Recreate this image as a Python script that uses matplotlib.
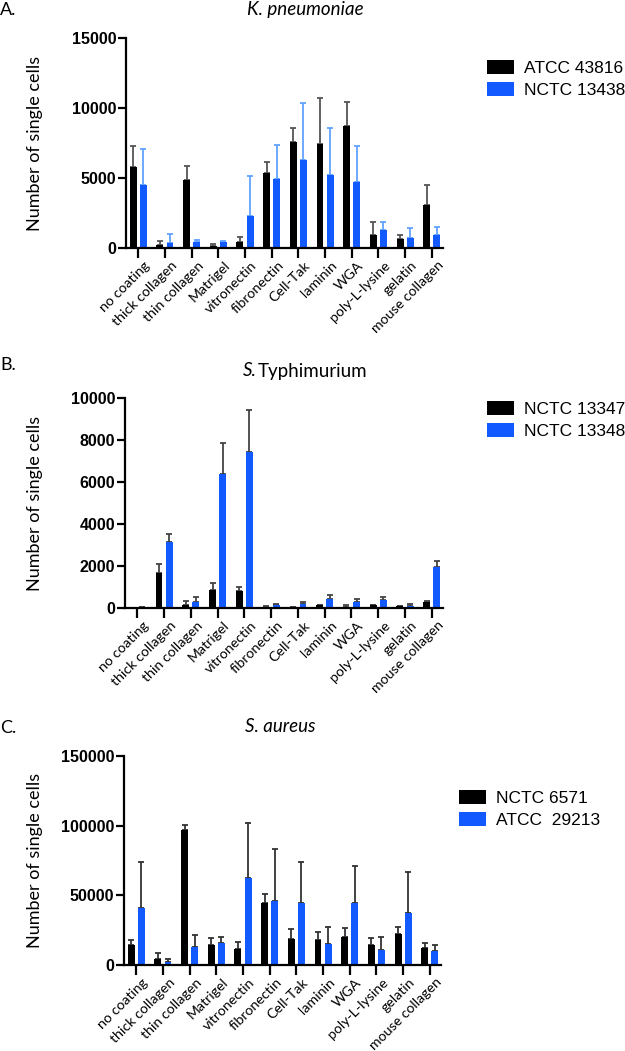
import numpy as np
import matplotlib.pyplot as plt
from matplotlib.transforms import ScaledTranslation

# coatings (x axis)
coatings = ["no coating", "thick collagen", "thin collagen", "Matrigel", "vitronectin",
            "fibronectin", "Cell-Tak", "laminin", "WGA", "poly-L-lysine", "gelatin",
            "mouse collagen"]

# A. K. pneumoniae
kp_strains = ["ATCC 43816", "NCTC 13438"]
kp_mean_1 = [5800, 210, 4830, 167, 460, 5380, 7600, 7400, 8690, 950, 620, 3070]
kp_sd_1 = [1500, 260, 1050, 143, 300, 790, 950, 3300, 1740, 880, 280, 1450]
kp_mean_2 = [4520, 333, 405, 452, 2260, 4950, 6310, 5210, 4740, 1310, 740, 930]
kp_sd_2 = [2580, 667, 190, 50, 2860, 2430, 4070, 3390, 2520, 520, 660, 550]

# B. S. Typhimurium
st_strains = ["NCTC 13347", "NCTC 13348"]
st_mean_1 = [15, 1680, 160, 840, 810, 70, 40, 125, 70, 140, 80, 300]
st_sd_1 = [5, 410, 160, 350, 200, 40, 20, 30, 60, 20, 30, 40]
st_mean_2 = [50, 3160, 285, 6380, 7450, 150, 210, 440, 300, 395, 110, 1975]
st_sd_2 = [10, 350, 235, 1480, 2000, 30, 90, 190, 140, 125, 90, 240]

# C. S. aureus
sa_strains = ["NCTC 6571", "ATCC  29213"]
sa_mean_1 = [14200, 4300, 97200, 14200, 11800, 44200, 18500, 18000, 20300, 14200, 22000, 12300]
sa_sd_1 = [3500, 4450, 3600, 5400, 4500, 6700, 7000, 5400, 6000, 5400, 5200, 3300]
sa_mean_2 = [41200, 2100, 13200, 15900, 62500, 46100, 44200, 15100, 44500, 11100, 37600, 9900]
sa_sd_2 = [32800, 1900, 8100, 4000, 39500, 37400, 29800, 12100, 26900, 8800, 29400, 4500]

W, H = 625, 1051
fig = plt.figure(figsize=(W / 100, H / 100), dpi=100)

BLUE = "#1259ff"
lab_font = "Lato"


def panel(rect, m1, s1, m2, s2, ymax, step, strains, ecol, leg_xy):
    l, t, r, b = rect
    ax = fig.add_axes([l / W, 1 - b / H, (r - l) / W, (b - t) / H])
    x = np.arange(len(coatings))
    w = 0.26
    b1 = ax.bar(x - 0.19, m1, w, color="black", label=strains[0], zorder=2)
    b2 = ax.bar(x + 0.19, m2, w, color=BLUE, label=strains[1], zorder=2)
    ax.errorbar(x - 0.19, m1, yerr=[np.zeros(len(m1)), s1], fmt="none",
                ecolor=ecol[0], elinewidth=1.3, capsize=2, capthick=1.3, zorder=1)
    ax.errorbar(x + 0.19, m2, yerr=[np.zeros(len(m2)), s2], fmt="none",
                ecolor=ecol[1], elinewidth=1.3, capsize=2, capthick=1.3, zorder=1)
    ax.set_xlim(-0.46, 11.42)
    ax.set_ylim(0, ymax)
    ax.set_yticks(np.arange(0, ymax + 1, step))
    for s in ["top", "right"]:
        ax.spines[s].set_visible(False)
    for s in ["left", "bottom"]:
        ax.spines[s].set_linewidth(1.6)
    ax.tick_params(axis="y", length=6, width=1.6, pad=1)
    ax.tick_params(axis="x", length=7, width=1.6, pad=1)
    for lab in ax.get_yticklabels():
        lab.set_fontfamily("Liberation Sans")
        lab.set_fontweight("bold")
        lab.set_fontsize(11.5)
    ax.set_xticks(x)
    ax.set_xticklabels(coatings, rotation=45, ha="right", va="top",
                       rotation_mode="anchor", fontfamily=lab_font, fontsize=10.2)
    off = ScaledTranslation(4 / 72, 0, fig.dpi_scale_trans)
    for lab in ax.get_xticklabels():
        lab.set_transform(lab.get_transform() + off)
    ax.legend(handles=[b1, b2], loc="upper left", frameon=False,
              bbox_to_anchor=(leg_xy[0] / W, 1 - leg_xy[1] / H),
              bbox_transform=fig.transFigure, borderpad=0, borderaxespad=0,
              handlelength=1.55, handleheight=0.85, handletextpad=0.6,
              labelspacing=0.35, prop={"family": "Liberation Sans", "size": 12.5})
    fig.text(35 / W, 1 - (t + b) / 2 / H, "Number of single cells", rotation=90,
             ha="center", va="center", fontfamily=lab_font, fontsize=13)
    return ax


panel((126, 38, 443, 248), kp_mean_1, kp_sd_1, kp_mean_2, kp_sd_2, 15000, 5000,
      kp_strains, ("#555555", "#62a2ff"), (487, 60))
panel((125, 398, 443, 608), st_mean_1, st_sd_1, st_mean_2, st_sd_2, 10000, 2000,
      st_strains, ("#444444", "#444444"), (487, 401))
panel((124, 756, 441, 965), sa_mean_1, sa_sd_1, sa_mean_2, sa_sd_2, 150000, 50000,
      sa_strains, ("#333333", "#333333"), (459, 790))

# panel letters and titles
for letter, yc in [("A.", 10), ("B.", 365), ("C.", 728)]:
    fig.text(0, 1 - yc / H, letter, ha="left", va="center", fontfamily=lab_font, fontsize=13)
fig.text(305 / W, 1 - 9.5 / H, "K. pneumoniae", ha="center", va="center",
         fontfamily=lab_font, style="italic", fontsize=13.5)
fig.text(243 / W, 1 - 371 / H, "S.", ha="left", va="center",
         fontfamily=lab_font, style="italic", fontsize=13.5)
fig.text(258 / W, 1 - 371 / H, "Typhimurium", ha="left", va="center",
         fontfamily=lab_font, fontsize=13.5)
fig.text(280 / W, 1 - 727 / H, "S. aureus", ha="center", va="center",
         fontfamily=lab_font, style="italic", fontsize=13.5)

fig.savefig("out.png", dpi=100)
